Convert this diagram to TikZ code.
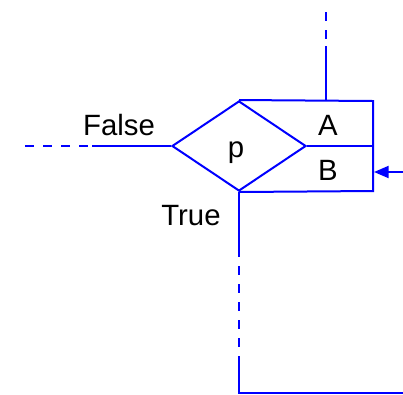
\documentclass[tikz,border=0pt]{standalone}
\usepackage{fontspec}
\setmainfont{Liberation Sans}
\usetikzlibrary{arrows.meta,shapes.geometric}
\definecolor{flowblue}{RGB}{0,0,255}

\begin{document}
\begin{tikzpicture}[x=0.75pt,y=-0.75pt,line width=1.5pt,
        wire/.style={draw=flowblue},
        dashwire/.style={draw=flowblue,dash pattern=on 6.75pt off 6.75pt},
        decision/.style={diamond,draw=flowblue,minimum width=100.5pt,minimum height=67.5pt,inner sep=0pt},
        lbl/.style={anchor=base,inner sep=0pt,font=\fontsize{22}{26}\selectfont},
        arrow/.style={-{Triangle[length=11pt,width=9pt]},draw=flowblue}]
        \useasboundingbox (0,0) rectangle (403,394);
        \node[decision] (test) at (239,146) {};
        % outer box
        \coordinate (boxne) at (373,101);
        \coordinate (boxse) at (373,191);
        \coordinate (boxe) at (373,146);
        \draw[wire] (test.north) -- (boxne) -- (boxse) -- (test.south);
        \draw[wire] (test.east) -- (boxe);
        % labels
        \node[lbl] (plbl) at (236,157) {p};
        \node[lbl] (albl) at (328,135) {A};
        \node[lbl] (blbl) at (328,180) {B};
        \node[lbl] (falselbl) at (119,135) {False};
        \node[lbl] (truelbl) at (191,225) {True};
        % top exit
        \coordinate (topend) at (326,12);
        \coordinate (topmid) at (326,46);
        \coordinate (topfoot) at (326,101);
        \draw[dashwire] (topend) -- (topmid);
        \draw[wire] (topmid) -- (topfoot);
        % false exit
        \coordinate (leftend) at (25,146);
        \coordinate (leftmid) at (92,146);
        \draw[dashwire] (leftend) -- (leftmid);
        \draw[wire] (leftmid) -- (test.west);
        % true exit
        \coordinate (downa) at (239,257);
        \coordinate (downb) at (239,356);
        \coordinate (corner) at (239,393);
        \coordinate (rightend) at (403,393);
        \draw[wire] (test.south) -- (downa);
        \draw[dashwire,dash phase=-6.75pt] (downa) -- (downb);
        \draw[wire] (downb) -- (corner) -- (rightend);
        % entry arrow
        \coordinate (entry) at (403,172);
        \coordinate (entrytip) at (374,172);
        \draw[arrow] (entry) -- (entrytip);
      \end{tikzpicture}
\end{document}
